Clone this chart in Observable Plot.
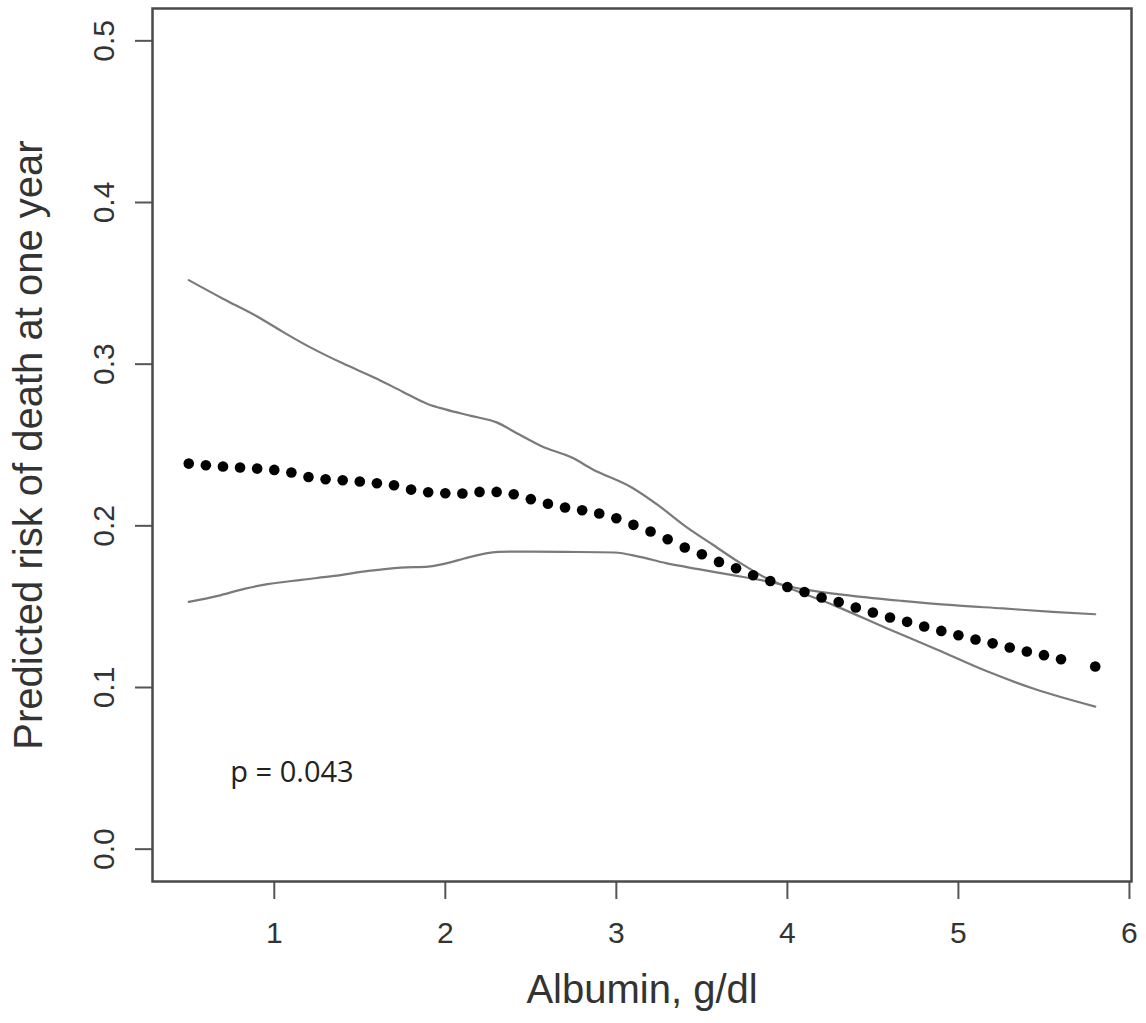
<!DOCTYPE html>
<html>
<head>
<meta charset="utf-8">
<script src="https://cdn.jsdelivr.net/npm/d3@7"></script>
<script src="https://cdn.jsdelivr.net/npm/@observablehq/plot@0.6"></script>
<style>
  html, body { margin: 0; padding: 0; background: #fff; }
</style>
</head>
<body>
<div id="chart"></div>
<script>
// Point estimate (dotted curve)
const estAlbumin = [0.5, 0.6, 0.7, 0.8, 0.9, 1.0, 1.1, 1.2, 1.3, 1.4, 1.5, 1.6, 1.7, 1.8, 1.9,
  2.0, 2.1, 2.2, 2.3, 2.4, 2.5, 2.6, 2.7, 2.8, 2.9, 3.0, 3.1, 3.2, 3.3, 3.4, 3.5, 3.6, 3.7, 3.8, 3.9,
  4.0, 4.1, 4.2, 4.3, 4.4, 4.5, 4.6, 4.7, 4.8, 4.9, 5.0, 5.1, 5.2, 5.3, 5.4, 5.5, 5.6, 5.8];
const estRisk = [0.2385, 0.2375, 0.2367, 0.2361, 0.2354, 0.2346, 0.2330, 0.2302, 0.2288, 0.2282,
  0.2274, 0.2263, 0.2251, 0.2224, 0.2208, 0.2202, 0.2200, 0.2210, 0.2210, 0.2195, 0.2165, 0.2137,
  0.2113, 0.2096, 0.2076, 0.2047, 0.2006, 0.1965, 0.1917, 0.1866, 0.1824, 0.1777, 0.1738, 0.1694,
  0.1659, 0.1622, 0.1591, 0.1557, 0.1529, 0.1495, 0.1464, 0.1433, 0.1406, 0.1377, 0.1350, 0.1323,
  0.1297, 0.1273, 0.1247, 0.1223, 0.1200, 0.1175, 0.1130];

// Confidence band: curve starting high
const upperAlbumin = [0.5, 0.7, 0.9, 1.05, 1.2, 1.4, 1.6, 1.75, 1.9, 2.0, 2.15, 2.3, 2.43, 2.56, 2.74,
  2.86, 3.09, 3.25, 3.40, 3.56, 3.72, 3.87, 4.0, 4.28, 4.57, 4.87, 5.16, 5.45, 5.8];
const upperRisk = [0.352, 0.3405, 0.3295, 0.320, 0.311, 0.3005, 0.291, 0.283, 0.2752, 0.272, 0.268,
  0.264, 0.2566, 0.2494, 0.2422, 0.235, 0.2237, 0.2123, 0.200, 0.1886, 0.1773, 0.168, 0.162, 0.1505,
  0.1371, 0.1237, 0.1103, 0.0989, 0.0882];

// Confidence band: curve starting low
const lowerAlbumin = [0.5, 0.67, 0.83, 0.96, 1.16, 1.35, 1.55, 1.74, 1.9, 2.04, 2.11, 2.31, 2.5, 2.7,
  2.99, 3.13, 3.29, 3.48, 3.68, 3.87, 4.09, 4.38, 4.67, 4.97, 5.26, 5.55, 5.8];
const lowerRisk = [0.153, 0.1567, 0.1612, 0.1639, 0.1666, 0.169, 0.1721, 0.1742, 0.1748, 0.1777,
  0.1798, 0.1839, 0.1841, 0.1839, 0.1835, 0.181, 0.1769, 0.1732, 0.1695, 0.1659, 0.1608, 0.1567,
  0.1536, 0.1509, 0.1489, 0.1468, 0.1453];

const xTicks = [1, 2, 3, 4, 5, 6];
const yTicks = [0.0, 0.1, 0.2, 0.3, 0.4, 0.5];
const xTitle = "Albumin, g/dl";
const yTitle = "Predicted risk of death at one year";
const pText = "p = 0.043";
const pAt = {x: 0.743, y: 0.0475};

const est = estAlbumin.map((x, i) => ({x, y: estRisk[i]}));
const upper = upperAlbumin.map((x, i) => ({x, y: upperRisk[i]}));
const lower = lowerAlbumin.map((x, i) => ({x, y: lowerRisk[i]}));

const chart = Plot.plot({
  width: 1146,
  height: 1023,
  marginLeft: 152,
  marginRight: 15,
  marginTop: 8,
  marginBottom: 142,
  style: {fontFamily: "'Liberation Sans', Arial, Helvetica, sans-serif", background: "#fff"},
  x: {domain: [0.288, 6.012]},
  y: {domain: [-0.02, 0.52]},
  marks: [
    Plot.line(upper, {x: "x", y: "y", stroke: "#7a7a7a", strokeWidth: 2.2, curve: "monotone-x"}),
    Plot.line(lower, {x: "x", y: "y", stroke: "#7a7a7a", strokeWidth: 2.2, curve: "monotone-x"}),
    Plot.dot(est, {x: "x", y: "y", r: 5.3, fill: "#000", stroke: "none"}),
    Plot.text([pText], {x: pAt.x, y: pAt.y, text: d => d, textAnchor: "start", lineAnchor: "middle",
      fontSize: 29, fill: "#222", fontFamily: "'Open Sans', 'Noto Sans', sans-serif"}),
    Plot.axisX({ticks: xTicks, tickSize: 18, tickPadding: 22, fontSize: 30, stroke: "#555",
      strokeWidth: 2, fill: "#333", tickFormat: d3.format("d"), label: null}),
    Plot.axisY({ticks: yTicks, tickSize: 17, tickPadding: 22, tickRotate: -90, textAnchor: "middle",
      lineAnchor: "bottom", fontSize: 30, stroke: "#555", strokeWidth: 2, fill: "#333",
      tickFormat: d3.format(".1f"), label: null}),
    Plot.text([xTitle], {frameAnchor: "bottom", dy: 121, lineAnchor: "bottom", textAnchor: "middle",
      text: d => d, fontSize: 40, fill: "#333"}),
    Plot.text([yTitle], {frameAnchor: "left", dx: -139, rotate: -90, lineAnchor: "top", textAnchor: "middle",
      text: d => d, fontSize: 40, fill: "#333"}),
    Plot.frame({stroke: "#4a4a4a", strokeWidth: 2.5})
  ]
});
document.getElementById("chart").appendChild(chart);
</script>
</body>
</html>
